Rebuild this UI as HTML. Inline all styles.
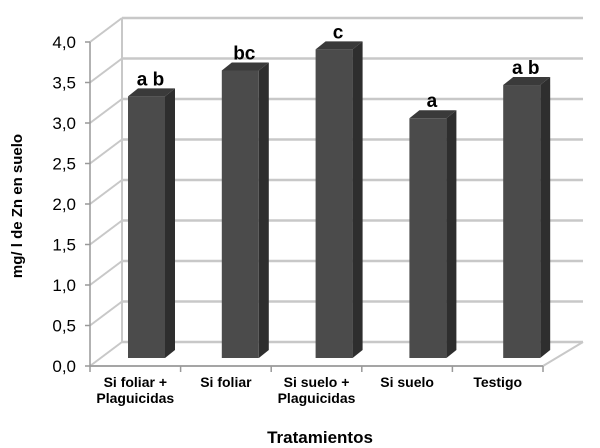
<!DOCTYPE html>
<html><head><meta charset="utf-8"><style>
body{margin:0;background:#fff;}
svg{display:block;font-family:"Liberation Sans",Arial,sans-serif;}
</style></head><body>
<svg id="chart" width="600" height="448">
<g id="grid"></g>
<g id="bars"></g>
<g id="axes"></g>
<text x="0" y="0" transform="translate(22,206) rotate(-90)" text-anchor="middle" font-size="15" font-weight="bold">mg/ l  de Zn en suelo</text>
<text x="320" y="443" text-anchor="middle" font-size="17" font-weight="bold">Tratamientos</text>
</svg>
<script>
const categories = [["Si foliar +","Plaguicidas"],["Si foliar"],["Si suelo +","Plaguicidas"],["Si suelo"],["Testigo"]];
const values = [3.23, 3.55, 3.81, 2.96, 3.37];
const letters = ["a b","bc","c","a","a b"];
const ticks = [0,0.5,1,1.5,2,2.5,3,3.5,4];
const tickLabels = ["0,0","0,5","1,0","1,5","2,0","2,5","3,0","3,5","4,0"];

const NS="http://www.w3.org/2000/svg";
const X0=90,X1=543,Y0=366,K=81,DX=32,DY=-24;
const yFront=v=>Y0-v*K;
const yBar=v=>358-v*K;
const n=categories.length;
function mk(tag,attrs,parent){const e=document.createElementNS(NS,tag);for(const k in attrs)e.setAttribute(k,attrs[k]);parent.appendChild(e);return e;}
const grid=document.getElementById('grid'),bars=document.getElementById('bars'),axes=document.getElementById('axes');
ticks.forEach((t,i)=>{
  const y=yFront(t);
  const l=mk('line',{x1:X0+DX,y1:y+DY,x2:X1+DX+8,y2:y+DY,stroke:'#c8c8c8','stroke-width':2.5},grid);
  
  
  const d=mk('line',{x1:X0,y1:y,x2:X0+DX,y2:y+DY,stroke:'#c8c8c8','stroke-width':2},grid);
  
  
  const tk=mk('line',{x1:X0-5,y1:y,x2:X0,y2:y,stroke:'#999','stroke-width':1.5},axes);
  
  
  const tx=mk('text',{x:76,y:y+6,'text-anchor':'end','font-size':17},axes);
  tx.textContent=tickLabels[i];
  
  
});
const vb=mk('line',{x1:X0+DX,y1:yFront(4)+DY,x2:X0+DX,y2:Y0+DY,stroke:'#c8c8c8','stroke-width':2},grid);


const floor=mk('polyline',{points:`${X0},${Y0} ${X1},${Y0} ${X1+DX+8},${Y0+DY}`,fill:'none',stroke:'#c8c8c8','stroke-width':2},grid);


const ya=mk('line',{x1:X0,y1:yFront(4),x2:X0,y2:Y0,stroke:'#999','stroke-width':1.5},axes);


const xa=mk('line',{x1:X0,y1:Y0,x2:X1,y2:Y0,stroke:'#999','stroke-width':1.5},axes);


const cw=(X1-X0)/n;
for(let i=0;i<=n;i++){
  const t=mk('line',{x1:X0+i*cw,y1:Y0,x2:X0+i*cw,y2:Y0+6,stroke:'#999','stroke-width':1.5},axes);
  
  
}
categories.forEach((c,i)=>{
  const cx=X0+cw*(i+0.5);
  c.forEach((line,j)=>{
    const t=mk('text',{x:cx,y:387+j*16,'text-anchor':'middle','font-size':14,'font-weight':'bold'},axes);
    t.textContent=line;
    
    
  });
  const bx=128+i*93.8,bw=37,dx=10,dy=-8;
  const top=yBar(values[i]),bot=yBar(0);
  const g=mk('g',{},bars);
  
  
  mk('polygon',{points:`${bx+bw},${top} ${bx+bw+dx},${top+dy} ${bx+bw+dx},${bot+dy} ${bx+bw},${bot}`,fill:'#2e2e2e'},g);
  mk('polygon',{points:`${bx},${top} ${bx+dx},${top+dy} ${bx+bw+dx},${top+dy} ${bx+bw},${top}`,fill:'#3a3a3a'},g);
  mk('rect',{x:bx,y:top,width:bw,height:bot-top,fill:'#4b4b4b'},g);
  const lt=mk('text',{x:bx+bw/2+4,y:top-11,'text-anchor':'middle','font-size':19,'font-weight':'bold'},g);
  lt.textContent=letters[i];
  
  
});
</script>
</body></html>
